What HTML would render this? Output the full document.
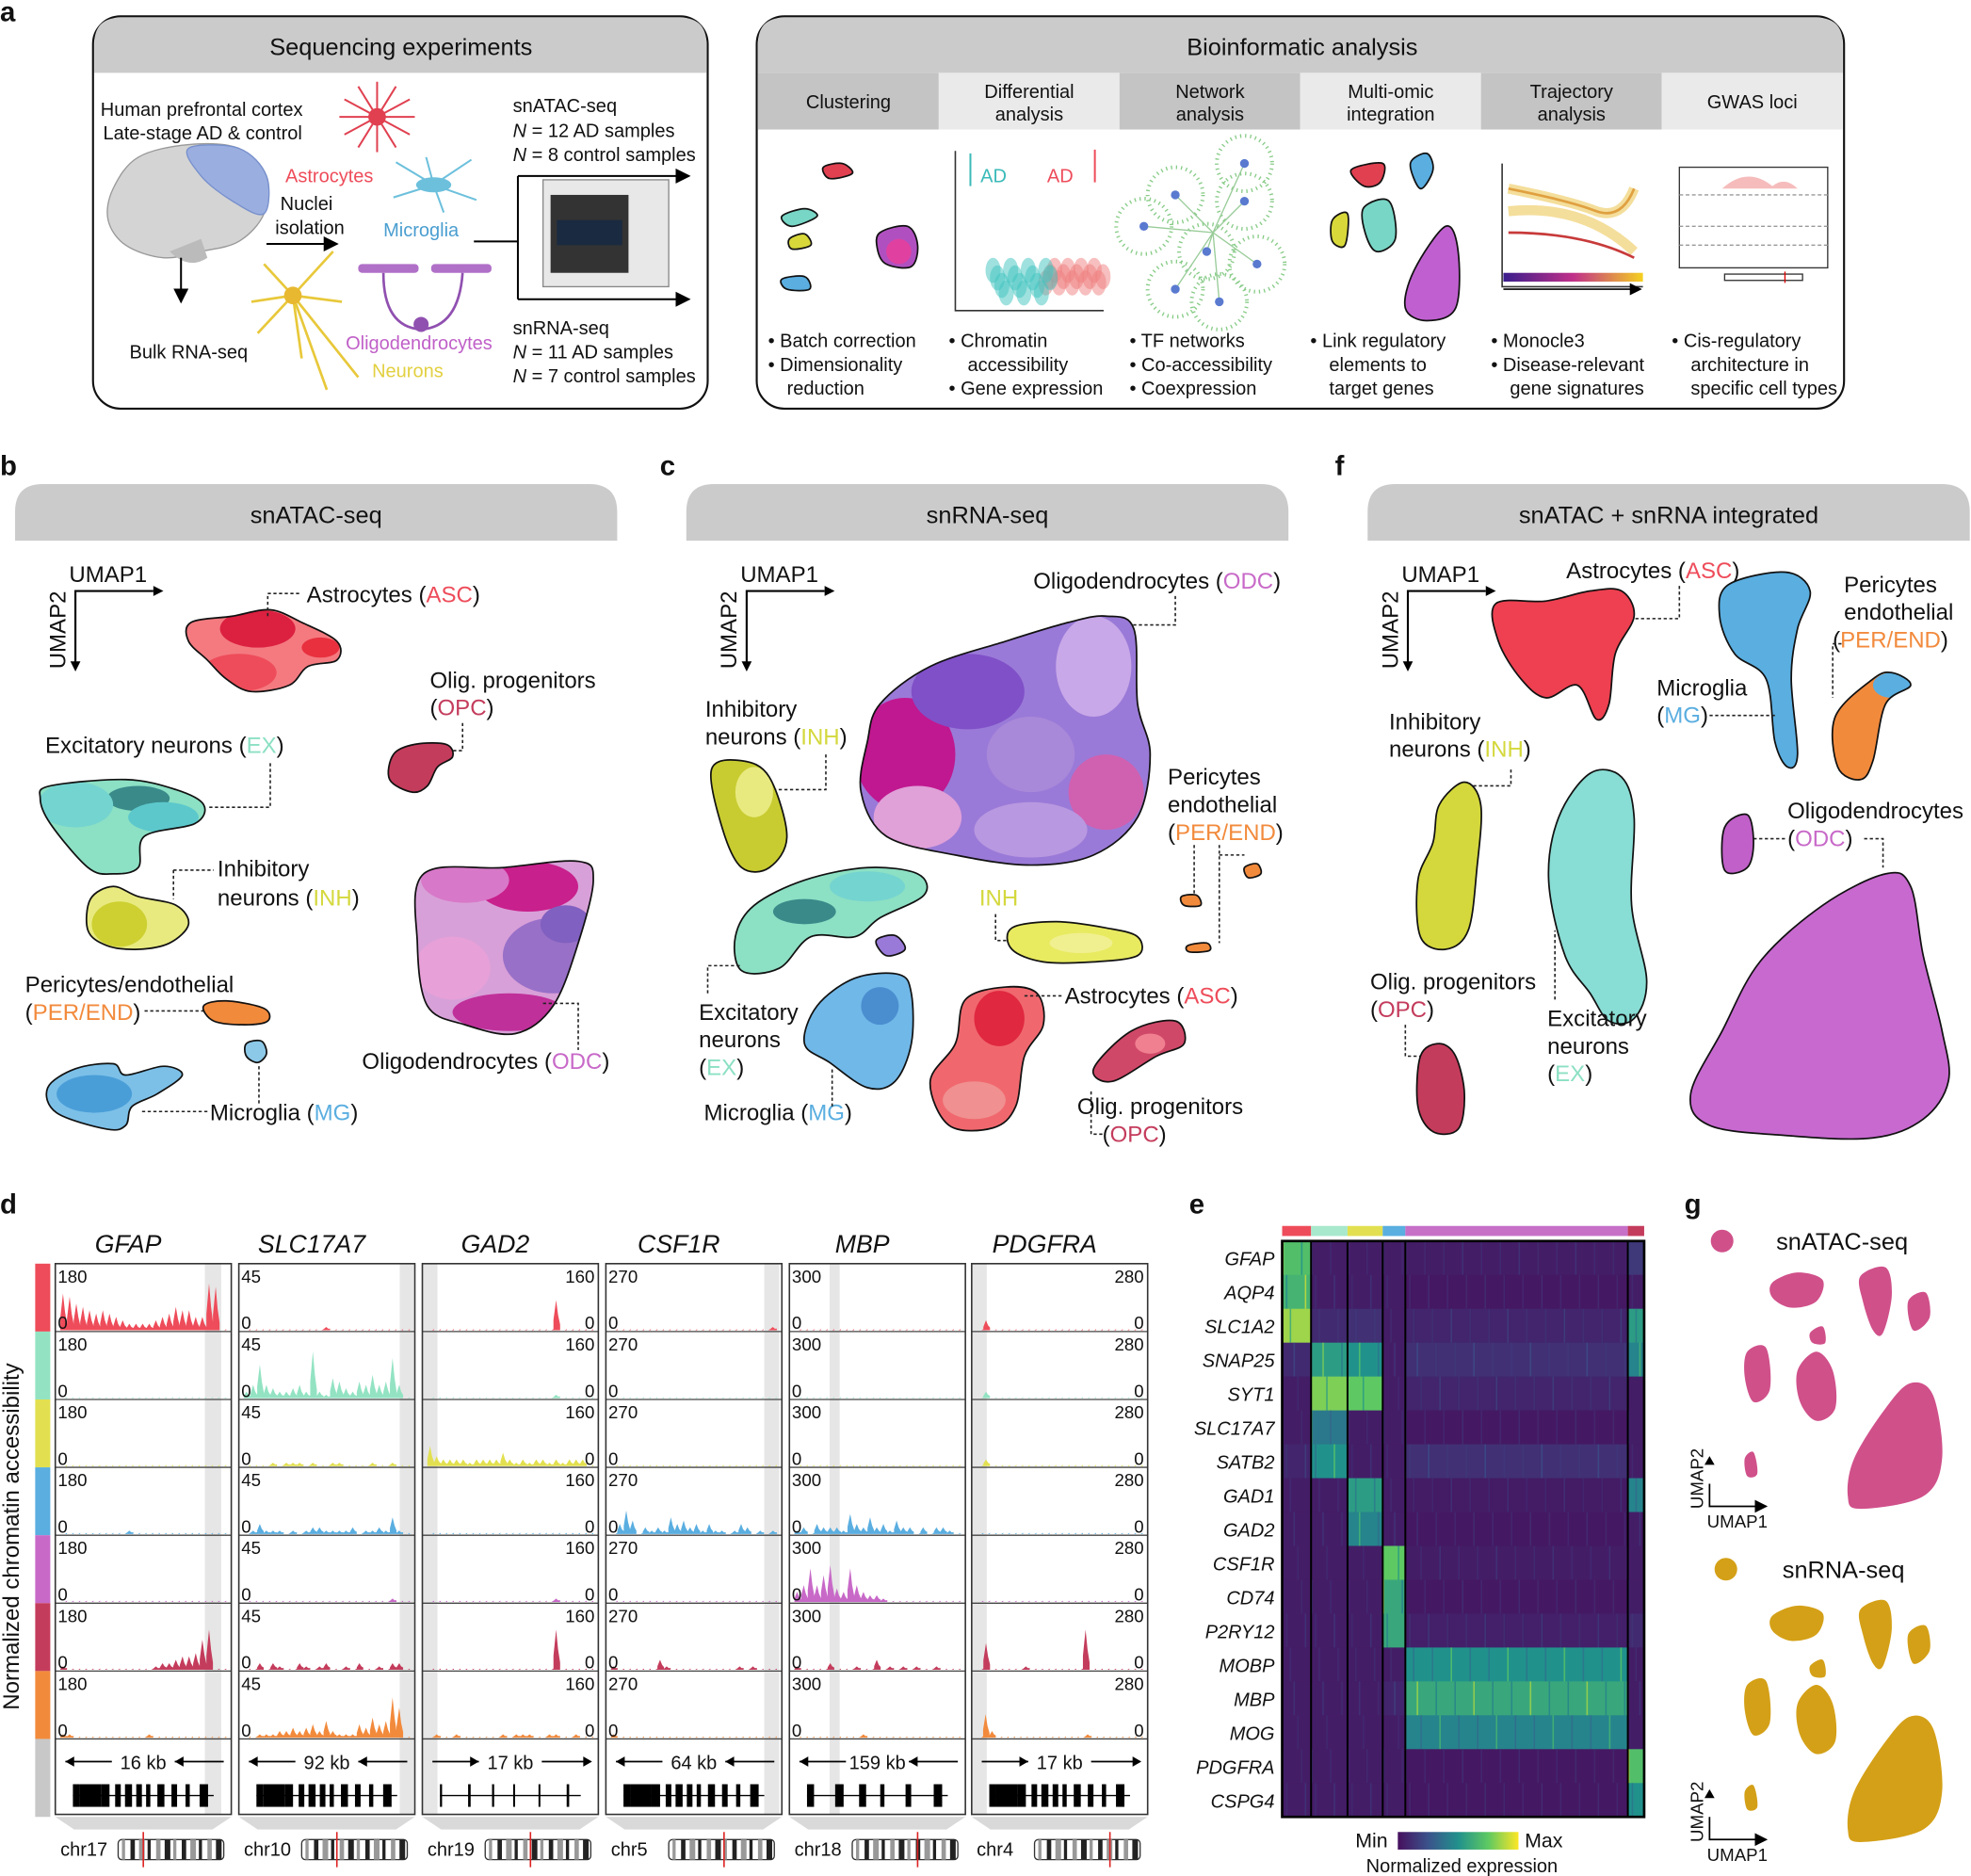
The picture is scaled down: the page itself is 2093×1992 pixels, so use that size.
<!DOCTYPE html>
<html><head><meta charset="utf-8"><style>
html,body{margin:0;padding:0;background:#fff}
svg{display:block;font-family:"Liberation Sans",Arial,sans-serif}
</style></head><body>
<svg id="fig" width="2093" height="1992" viewBox="0 0 1568 1492" preserveAspectRatio="none" xmlns="http://www.w3.org/2000/svg">
<defs>
<linearGradient id="vir" x1="0" x2="1" y1="0" y2="0"><stop offset="0" stop-color="#46105e"/><stop offset="0.25" stop-color="#3b528b"/><stop offset="0.5" stop-color="#21918c"/><stop offset="0.75" stop-color="#5ec962"/><stop offset="1" stop-color="#fde725"/></linearGradient>
<linearGradient id="traj" x1="0" x2="1"><stop offset="0" stop-color="#3a1e8c"/><stop offset="0.5" stop-color="#c0308a"/><stop offset="1" stop-color="#f5d020"/></linearGradient>
<marker id="arr" markerWidth="8" markerHeight="8" refX="7" refY="4" orient="auto"><path d="M0,0 L8,4 L0,8 z" fill="#000"/></marker>
</defs>
<g id="root"></g>
</svg>
<script>
// ---------- data for panel d (relative accessibility, hex digit 0-f per bin) ----------
const genes = ["GFAP","SLC17A7","GAD2","CSF1R","MBP","PDGFRA"];
const geneMax = ["180","45","160","270","300","280"];
const geneKb = ["16 kb","92 kb","17 kb","64 kb","159 kb","17 kb"];
const geneChr = ["chr17","chr10","chr19","chr5","chr18","chr4"];
const trackGFAP = ["ba87656543222234576644ed0","0000000000000000000000000","0000000000000000000000000","0000000000100000000000000","0000000000000000000000000","1000000000000012234459c00","1100000000000100000000000"];
const trackSLC = ["0000000000001000000000000","24a4322342e21653254745c40","0000101110100110000100100","0131110101221111201121510","0000000000000000000000100","0020210021012001020010220","0011122323425211143645c90"];
const trackGAD2 = ["0000000000000000000900000","0000000000000000000100000","6322221222242121221212220","0000000000000000000000000","0000000000000000000100000","0000000000000000000c00000","0100100000010111001100100"];
const trackCSF = ["0000000000000000000000001","0000000000000000000000000","0000000000000000000000000","03740212153423131101320101","0000000000000000000000000","1000000310000000000101000","1000000000000000000000000"];
const trackMBP = ["0000000000000000000000000","0000000000000000000000000","0000000000000000000000000","1203222163252314220202210","35a58b43a5322100000000000","1000020001003010101001000","0000000000100000000000000"];
const trackPDG = ["0300000000000000000000000","0200000000000000000000000","0200000000000000000000000","0000000000000000000000000","0000000000000000000000000","0800000100000000c00000000","07200000000000000100000000"];
const tracks = [trackGFAP,trackSLC,trackGAD2,trackCSF,trackMBP,trackPDG];
const cellColors = ["#ee4c5a","#93e3c3","#e2e050","#5aaee0","#c869c8","#c43c5c","#f28a3c"];

// ---------- data for panel e ----------
const hmGenes = ["GFAP","AQP4","SLC1A2","SNAP25","SYT1","SLC17A7","SATB2","GAD1","GAD2","CSF1R","CD74","P2RY12","MOBP","MBP","MOG","PDGFRA","CSPG4"];
const hmGroups = ["ASC","EX","INH","MG","ODC","OPC"];
const hmGroupColors = ["#ee4c5a","#a8e8cc","#e2e050","#5aaee0","#c670c8","#c43c5c"];
const hmValues = [
 [0.7,0.05,0.05,0.05,0.05,0.15],
 [0.65,0.05,0.05,0.05,0.03,0.05],
 [0.85,0.1,0.12,0.05,0.08,0.55],
 [0.1,0.55,0.5,0.05,0.12,0.45],
 [0.05,0.8,0.75,0.05,0.08,0.05],
 [0.05,0.4,0.05,0.05,0.03,0.05],
 [0.08,0.5,0.05,0.05,0.12,0.05],
 [0.05,0.05,0.55,0.05,0.04,0.45],
 [0.05,0.05,0.45,0.05,0.03,0.05],
 [0.05,0.05,0.05,0.75,0.05,0.05],
 [0.05,0.05,0.05,0.6,0.03,0.05],
 [0.05,0.05,0.05,0.6,0.06,0.1],
 [0.05,0.05,0.05,0.05,0.5,0.05],
 [0.05,0.05,0.05,0.08,0.6,0.05],
 [0.05,0.05,0.05,0.05,0.45,0.05],
 [0.05,0.05,0.05,0.05,0.03,0.7],
 [0.05,0.05,0.05,0.05,0.03,0.5]];
const hmGroupWidths = [23,29,28,18,177,13];

// ---------- helpers ----------
const NS="http://www.w3.org/2000/svg";
const root=document.getElementById('root');
function el(tag,attrs,parent,text){const e=document.createElementNS(NS,tag);for(const k in attrs)e.setAttribute(k,attrs[k]);if(text!==undefined)e.textContent=text;(parent||root).appendChild(e);return e;}
function txt(x,y,s,size,opts,parent){opts=opts||{};const a={x:x,y:y,'font-size':size,fill:opts.fill||'#111'};if(opts.anchor)a['text-anchor']=opts.anchor;if(opts.italic)a['font-style']='italic';if(opts.bold)a['font-weight']='bold';if(opts.rot)a.transform='rotate('+opts.rot+' '+x+' '+y+')';const t=el('text',a,parent,s);return t;}
function rich(x,y,parts,size,opts){opts=opts||{};const t=el('text',{x:x,y:y,'font-size':size,fill:'#111','text-anchor':opts.anchor||'start'});parts.forEach(p=>{const s=el('tspan',{fill:p[1]||'#111'},t,p[0]);});return t;}
function lerpHex(a,b,t){const pa=[1,3,5].map(i=>parseInt(a.substr(i,2),16)),pb=[1,3,5].map(i=>parseInt(b.substr(i,2),16));return 'rgb('+pa.map((v,i)=>Math.round(v+(pb[i]-v)*t)).join(',')+')';}
function viridis(v){const s=["#46105e","#3b528b","#21918c","#5ec962","#fde725"];v=Math.max(0,Math.min(1,v))*4;const i=Math.min(3,Math.floor(v));return lerpHex(s[i],s[i+1],v-i);}
function smooth(pts){let d='';const n=pts.length;for(let i=0;i<n;i++){const p0=pts[(i-1+n)%n],p1=pts[i],p2=pts[(i+1)%n],p3=pts[(i+2)%n];if(i==0)d+='M'+p1[0]+','+p1[1];const c1=[p1[0]+(p2[0]-p0[0])/6,p1[1]+(p2[1]-p0[1])/6],c2=[p2[0]-(p3[0]-p1[0])/6,p2[1]-(p3[1]-p1[1])/6];d+='C'+c1[0].toFixed(1)+','+c1[1].toFixed(1)+' '+c2[0].toFixed(1)+','+c2[1].toFixed(1)+' '+p2[0]+','+p2[1];}return d+'Z';}
let clipId=0;
function blob(pts,fills,name,outline){const g=el('g',{});const d=smooth(pts);const id='cp'+(clipId++);const cp=el('clipPath',{id:id},g);el('path',{d:d},cp);el('path',{d:d,fill:fills[0]},g);const inner=el('g',{'clip-path':'url(#'+id+')'},g);fills.slice(1).forEach(f=>el('ellipse',{cx:f[0],cy:f[1],rx:f[2],ry:f[3],fill:f[4]},inner));if(outline!==false)el('path',{d:d,fill:'none',stroke:'#111','stroke-width':1.3},g);return g;}
function dash(pts){el('polyline',{points:pts.map(p=>p.join(',')).join(' '),fill:'none',stroke:'#222','stroke-width':1.2,'stroke-dasharray':'2.5,2'});}
function umapAxes(x,y,name){const g=el('g',{});el('path',{d:`M${x},${y+58} L${x},${y} L${x+62},${y}`,fill:'none',stroke:'#000','stroke-width':1.6},g);el('path',{d:`M${x+62},${y-4} L${x+70},${y} L${x+62},${y+4}z M${x-4},${y+56} L${x},${y+64} L${x+4},${y+56}z`,fill:'#000'},g);txt(x-5,y-7,'UMAP1',18,{},g);txt(x-8,y+62,'UMAP2',18,{rot:-90},g);}
function panelLetter(x,y,s){txt(x,y,s,22,{bold:true,name:'panel-letter-'+s});}
function tab(x,y,w,h,label,name){const g=el('g',{});el('path',{d:`M${x},${y+h} L${x},${y+22} Q${x},${y} ${x+22},${y} L${x+w-22},${y} Q${x+w},${y} ${x+w},${y+22} L${x+w},${y+h}z`,fill:'#cbcbcb'},g);txt(x+w/2,y+31,label,19,{anchor:'middle'},g);}

const C={asc:'#ee4c5a',ex:'#78d6c6',inh:'#d4d83c',mg:'#5aaee0',odc:'#c869c8',opc:'#c43c5c',per:'#f28a3c'};

// ================= PANEL A =================
panelLetter(0,17,'a');
(function(){
 const g=el('g',{});
 el('rect',{x:74,y:13,width:489,height:312,rx:22,fill:'#fff',stroke:'#111','stroke-width':1.6},g);
 el('path',{d:'M75,58 L75,35 Q75,14 96,14 L541,14 Q562,14 562,35 L562,58z',fill:'#cbcbcb'},g);
 txt(319,44,'Sequencing experiments',19,{anchor:'middle'},g);
 txt(80,92,'Human prefrontal cortex',15,{},g);txt(82,111,'Late-stage AD & control',15,{},g);
 // brain
 const b=el('g',{});
 el('path',{d:smooth([[90,150],[110,125],[150,115],[190,118],[212,140],[210,170],[190,192],[160,200],[130,205],[100,195],[86,175]]),fill:'#d4d4d4',stroke:'#999'},b);
 el('path',{d:smooth([[150,118],[190,118],[212,140],[210,170],[185,160],[160,140]]),fill:'#9aaee0',stroke:'#7790cc'},b);
 el('path',{d:'M135,200 Q150,215 165,205 L160,190z',fill:'#bbb'},b);
 el('line',{x1:144,y1:205,x2:144,y2:240,stroke:'#000','stroke-width':1.5,'marker-end':'url(#arr)'});
 txt(103,285,'Bulk RNA-seq',15,{},g);
 // astrocyte
 const ast=el('g',{});
 for(let i=0;i<12;i++){const a=i*Math.PI/6;el('line',{x1:300,y1:93,x2:300+30*Math.cos(a),y2:93+28*Math.sin(a),stroke:'#e04050','stroke-width':1.5},ast);}
 el('circle',{cx:300,cy:93,r:7,fill:'#e04050'},ast);
 txt(227,145,'Astrocytes',15,{fill:'#ee4c5a'},g);
 // microglia
 const mg=el('g',{});
 el('ellipse',{cx:345,cy:147,rx:14,ry:6,fill:'#6cc0dc'},mg);
 [[-30,-18],[-32,10],[30,-20],[34,12],[8,22],[-6,-22]].forEach(p=>el('line',{x1:345,y1:147,x2:345+p[0],y2:147+p[1],stroke:'#6cc0dc','stroke-width':1.5},mg));
 txt(305,188,'Microglia',15,{fill:'#4a9ed0'},g);
 txt(223,167,'Nuclei',15,{},g);txt(219,186,'isolation',15,{},g);
 el('line',{x1:212,y1:194,x2:268,y2:194,stroke:'#000','stroke-width':1.5,'marker-end':'url(#arr)'});
 // neuron
 const ne=el('g',{});
 [[200,240],[210,210],[265,200],[272,240],[240,285],[260,310],[285,300],[205,265]].forEach(p=>el('line',{x1:233,y1:235,x2:p[0],y2:p[1],stroke:'#e8c83a','stroke-width':2},ne));
 el('circle',{cx:233,cy:235,r:7,fill:'#e8b830'},ne);
 txt(296,300,'Neurons',15,{fill:'#e2d040'},g);
 // oligodendrocyte
 const ol=el('g',{});
 el('rect',{x:285,y:210,width:48,height:7,rx:3,fill:'#b070c8'},ol);el('rect',{x:343,y:210,width:48,height:7,rx:3,fill:'#b070c8'},ol);
 el('path',{d:'M305,217 Q305,260 335,262 Q365,260 368,217',fill:'none',stroke:'#9050b0','stroke-width':2},ol);
 el('circle',{cx:335,cy:258,r:6,fill:'#9050b0'},ol);
 txt(275,278,'Oligodendrocytes',15,{fill:'#c060c8'},g);
 // machine
 const m=el('g',{});
 el('rect',{x:432,y:143,width:100,height:85,fill:'#e8e8e8',stroke:'#888'},m);
 el('rect',{x:438,y:155,width:62,height:62,fill:'#333'},m);el('rect',{x:443,y:175,width:52,height:20,fill:'#1a2a40'},m);
 el('polyline',{points:'377,192 412,192',fill:'none',stroke:'#000','stroke-width':1.5});
 el('polyline',{points:'412,140 412,238',fill:'none',stroke:'#000','stroke-width':1.5});
 el('line',{x1:412,y1:140,x2:548,y2:140,stroke:'#000','stroke-width':1.5,'marker-end':'url(#arr)'});
 el('line',{x1:412,y1:238,x2:548,y2:238,stroke:'#000','stroke-width':1.5,'marker-end':'url(#arr)'});
 txt(408,89,'snATAC-seq',15,{},g);
 rich(408,109,[['N','#111'],[' = 12 AD samples']],15,{name:'atac-ad-samples'}).firstChild.setAttribute('font-style','italic');
 rich(408,128,[['N'],[' = 8 control samples']],15,{name:'atac-control-samples'}).firstChild.setAttribute('font-style','italic');
 txt(408,266,'snRNA-seq',15,{},g);
 rich(408,285,[['N'],[' = 11 AD samples']],15,{name:'rna-ad-samples'}).firstChild.setAttribute('font-style','italic');
 rich(408,304,[['N'],[' = 7 control samples']],15,{name:'rna-control-samples'}).firstChild.setAttribute('font-style','italic');

 // Bioinformatic
 const h=el('g',{});
 el('rect',{x:602,y:13,width:865,height:312,rx:22,fill:'#fff',stroke:'#111','stroke-width':1.6},h);
 el('path',{d:'M603,58 L603,35 Q603,14 624,14 L1445,14 Q1466,14 1466,35 L1466,58z',fill:'#cbcbcb'},h);
 txt(1036,44,'Bioinformatic analysis',19,{anchor:'middle'},h);
 const cells=[['Clustering'],['Differential','analysis'],['Network','analysis'],['Multi-omic','integration'],['Trajectory','analysis'],['GWAS loci']];
 const bul=[['• Batch correction','• Dimensionality','  reduction'],['• Chromatin','  accessibility','• Gene expression'],['• TF networks','• Co-accessibility','• Coexpression'],['• Link regulatory','  elements to','  target genes'],['• Monocle3','• Disease-relevant','  gene signatures'],['• Cis-regulatory','  architecture in','  specific cell types']];
 cells.forEach((c,i)=>{const x=603+i*143.8;const cg=el('g',{});
  el('rect',{x:x,y:58,width:143.8,height:45,fill:i%2==0?'#c4c4c4':'#eaeaea'},cg);
  if(c.length==1)txt(x+72,86,c[0],15,{anchor:'middle'},cg);else{txt(x+72,78,c[0],15,{anchor:'middle'},cg);txt(x+72,96,c[1],15,{anchor:'middle'},cg);}
  bul[i].forEach((b,j)=>{const t=txt(x+8,276+j*19,b.replace(/^  /,'\u2002\u2002'),15,{},cg);t.setAttribute('xml:space','preserve');});
 });
 // mini illustrations
 blob([[655,133],[670,130],[678,138],[660,142]],['#e04050'],'clustering-blob');
 blob([[622,172],[640,166],[650,172],[630,180]],['#78d6c6'],'clustering-blob');
 blob([[628,190],[640,186],[645,195],[630,198]],['#d8d83a'],'clustering-blob');
 blob([[700,185],[722,180],[730,195],[725,212],[705,210],[698,198]],['#b050c0',[715,200,10,10,'#e040a0']],'clustering-blob');
 blob([[622,222],[640,220],[644,230],[626,230]],['#5aaee0'],'clustering-blob');
 el('polyline',{points:'760,120 760,247 878,247',fill:'none',stroke:'#333','stroke-width':1.2});
 txt(780,145,'AD',15,{fill:'#3abab8'});txt(833,145,'AD',15,{fill:'#ee4c5a'});
 el('line',{x1:772,y1:122,x2:772,y2:148,stroke:'#3abab8','stroke-width':1.5});el('line',{x1:871,y1:145,x2:871,y2:119,stroke:'#ee4c5a','stroke-width':1.5});
 const dp=el('g',{});
 for(let i=0;i<14;i++){el('ellipse',{cx:790+i*3.5,cy:215+(i%4)*6,rx:6,ry:10,fill:'#3fc4c0',opacity:0.5},dp);el('ellipse',{cx:832+i*3.5,cy:225-(i%3)*5,rx:6,ry:10,fill:'#f08080',opacity:0.5},dp);}
 const nw=el('g',{});
 [[935,155],[990,160],[960,200],[1000,210],[935,230],[970,240],[990,130],[910,180]].forEach(p=>{el('circle',{cx:p[0],cy:p[1],r:22,fill:'none',stroke:'#8c8','stroke-dasharray':'1,3','stroke-width':3},nw);el('line',{x1:965,y1:185,x2:p[0],y2:p[1],stroke:'#9c9','stroke-width':1},nw);el('circle',{cx:p[0],cy:p[1],r:3.5,fill:'#5a7ad0'},nw);});
 blob([[1075,135],[1100,130],[1098,145],[1085,148]],['#e04050'],'integration-blob');
 blob([[1122,130],[1135,122],[1140,135],[1130,150]],['#5aaee0'],'integration-blob');
 blob([[1085,165],[1105,160],[1110,190],[1095,200],[1086,185]],['#78d6c6'],'integration-blob');
 blob([[1125,215],[1150,180],[1160,200],[1158,245],[1135,255],[1118,245]],['#c060d0'],'integration-blob');
 blob([[1060,175],[1072,170],[1070,195],[1060,192]],['#d8d83a'],'integration-blob');
 el('polyline',{points:'1195,130 1195,228 1307,228',fill:'none',stroke:'#333','stroke-width':1.2});
 el('path',{d:'M1200,150 Q1250,160 1270,168 Q1290,175 1300,150',fill:'none',stroke:'#f0d070','stroke-width':8,opacity:0.7});
 el('path',{d:'M1200,150 Q1250,160 1270,168 Q1290,175 1300,150',fill:'none',stroke:'#e0a040','stroke-width':2});
 el('path',{d:'M1200,168 Q1260,162 1300,200',fill:'none',stroke:'#f0d070','stroke-width':8,opacity:0.7});
 el('path',{d:'M1200,185 Q1260,185 1300,205',fill:'none',stroke:'#c83a3a','stroke-width':2});
 el('rect',{x:1196,y:217,width:111,height:7,fill:'url(#traj)'});
 el('line',{x1:1196,y1:230,x2:1305,y2:230,stroke:'#000','stroke-width':1.2,'marker-end':'url(#arr)'});
 const gw=el('g',{});
 el('rect',{x:1336,y:133,width:118,height:80,fill:'#fff',stroke:'#333'},gw);
 [155,180,195].forEach(y=>el('line',{x1:1336,y1:y,x2:1454,y2:y,stroke:'#999','stroke-dasharray':'3,2'},gw));
 el('path',{d:'M1370,150 Q1390,132 1410,148 Q1420,140 1430,150z',fill:'#f2a0a0',opacity:0.7},gw);
 el('rect',{x:1372,y:218,width:62,height:5,fill:'#fff',stroke:'#333'},gw);el('line',{x1:1420,y1:216,x2:1420,y2:225,stroke:'#d00'},gw);
})();

// ================= PANEL B =================
panelLetter(0,378,'b');
tab(12,385,479,45,'snATAC-seq','snatac-seq-header');
umapAxes(60,470,'umap-axes-atac');
blob([[152,495],[185,490],[215,485],[240,495],[268,510],[268,525],[245,530],[230,545],[200,550],[180,540],[165,525],[150,510]],['#f47a80',[205,500,30,15,'#dc2040'],[190,535,30,15,'#ee4c5a'],[255,515,15,8,'#e8303e']],'asc-cluster-atac');
rich(244,479,[['Astrocytes ('],['ASC',C.asc],[')']],18);dash([[213,490],[213,472],[240,472]]);
rich(342,547,[['Olig. progenitors']],18);rich(342,569,[['('],['OPC',C.opc],[')']],18);dash([[368,575],[368,597],[360,597]]);
blob([[313,600],[330,592],[355,592],[360,602],[348,610],[340,625],[328,630],[310,620]],['#c43c5c'],'opc-cluster-atac');
rich(36,599,[['Excitatory neurons ('],['EX','#8ce0c4'],[')']],18);dash([[215,607],[215,642],[165,642]]);
blob([[40,625],[100,620],[140,628],[162,640],[155,655],[115,665],[110,690],[90,695],[70,690],[40,655],[32,635]],['#8ce0c4',[110,635,25,10,'#3a8a8a'],[130,650,28,12,'#5cc8cc'],[60,640,30,18,'#74d4d0']],'ex-cluster-atac');
rich(173,697,[['Inhibitory']],18);rich(173,720,[['neurons ('],['INH',C.inh],[')']],18);dash([[138,692],[170,692]]);dash([[138,692],[138,715]]);
blob([[72,715],[90,705],[110,713],[140,720],[150,735],[135,750],[110,755],[85,752],[70,740]],['#e8ea80',[95,735,22,18,'#cdd030']],'inh-cluster-atac');
rich(20,789,[['Pericytes/endothelial']],18);rich(20,811,[['('],['PER/END',C.per],[')']],18);dash([[115,804],[165,804]]);
blob([[162,800],[180,796],[210,802],[213,812],[195,815],[170,812]],['#f28a3c'],'per-cluster-atac');
blob([[196,830],[208,828],[212,838],[205,845],[196,840]],['#8cc8e8'],'mg-small-cluster-atac');
blob([[337,695],[400,690],[460,685],[472,700],[460,750],[440,800],[410,822],[370,815],[340,800],[332,750]],['#d8a0d8',[420,705,40,20,'#c8208c'],[370,700,35,18,'#d878c8'],[440,760,40,30,'#9870c8'],[360,770,30,25,'#e8a0d8'],[405,805,45,15,'#c0309a'],[450,735,20,15,'#8060c0']],'odc-cluster-atac');
rich(288,850,[['Oligodendrocytes ('],['ODC',C.odc],[')']],18);dash([[432,798],[460,798],[460,835]]);
blob([[38,865],[60,850],[90,846],[100,855],[130,848],[145,855],[125,870],[105,880],[100,895],[85,898],[45,885]],['#7cc0e8',[75,870,30,15,'#4a9ed8']],'mg-cluster-atac');
rich(167,891,[['Microglia ('],['MG',C.mg],[')']],18);dash([[113,884],[166,884]]);dash([[206,848],[206,878]]);

// ================= PANEL C =================
panelLetter(525,378,'c');
tab(546,385,479,45,'snRNA-seq','snrna-seq-header');
umapAxes(594,470,'umap-axes-rna');
rich(822,468,[['Oligodendrocytes ('],['ODC',C.odc],[')']],18);dash([[935,474],[935,497],[898,497]]);
blob([[700,560],[740,530],[800,510],[850,495],[880,490],[902,500],[905,560],[915,600],[905,650],[870,680],[820,688],[760,680],[705,665],[685,630],[690,590]],['#9a7ad8',[720,600,40,45,'#c01890'],[770,550,45,30,'#8050c8'],[870,530,30,40,'#c8a8e8'],[730,650,35,25,'#e0a0d8'],[880,630,30,30,'#d060b0'],[820,660,45,22,'#b898e0'],[820,600,35,30,'#a888d8']],'odc-cluster-rna');
rich(561,570,[['Inhibitory']],18);rich(561,592,[['neurons ('],['INH',C.inh],[')']],18);dash([[657,600],[657,628],[617,628]]);
blob([[566,612],[590,605],[612,618],[626,665],[612,690],[590,690],[575,660]],['#c8cc30',[600,630,15,20,'#e8ea80']],'inh-cluster-rna');
blob([[600,720],[640,700],[690,690],[730,695],[735,712],[700,730],[680,745],[645,745],[620,770],[590,772],[585,745]],['#8ce0c4',[640,725,25,10,'#3a8a8a'],[690,705,30,12,'#74d4d0']],'ex-cluster-rna');
blob([[697,748],[712,744],[720,755],[705,760]],['#9a7ad8'],'small-cluster-rna');
rich(556,811,[['Excitatory']],18);rich(556,833,[['neurons']],18);rich(556,855,[['('],['EX','#8ce0c4'],[')']],18);dash([[563,790],[563,768],[590,768]]);
rich(779,720,[['INH',C.inh]],18);dash([[792,727],[792,748],[810,748]]);
blob([[805,738],[840,733],[880,738],[905,745],[905,760],[870,765],[830,765],[805,755]],['#e8ea60',[860,750,25,8,'#f0f090']],'inh-small-cluster-rna');
rich(929,624,[['Pericytes']],18);rich(929,646,[['endothelial']],18);rich(929,668,[['('],['PER/END',C.per],[')']],18);
dash([[950,672],[950,712]]);dash([[970,672],[970,750]]);dash([[970,680],[990,680]]);
blob([[940,713],[952,712],[955,720],[942,720]],['#f28a3c'],'per-cluster-rna');
blob([[945,752],[960,750],[962,756],[946,757]],['#f28a3c'],'per-cluster-rna');
blob([[990,690],[1000,687],[1003,695],[993,698]],['#f28a3c'],'per-cluster-rna');
blob([[650,800],[680,778],[715,775],[725,790],[725,830],[712,860],[690,865],[660,845],[640,830]],['#70b8e8',[700,800,15,15,'#4a8ed0']],'mg-cluster-rna');
rich(560,891,[['Microglia ('],['MG',C.mg],[')']],18);dash([[662,880],[662,850]]);
blob([[768,795],[800,785],[825,790],[830,815],[815,840],[808,880],[790,897],[755,895],[740,860],[760,830]],['#f0686e',[795,810,20,22,'#e02840'],[775,875,25,15,'#f09090']],'asc-cluster-rna');
rich(847,798,[['Astrocytes ('],['ASC',C.asc],[')']],18);dash([[815,792],[845,792]]);
blob([[870,850],[900,820],[935,812],[942,830],[920,840],[885,860]],['#d04868',[915,830,12,8,'#f08090']],'opc-cluster-rna');
rich(857,886,[['Olig. progenitors']],18);rich(877,908,[['('],['OPC',C.opc],[')']],18);dash([[868,868],[868,902],[878,902]]);

// ================= PANEL F =================
panelLetter(1062,378,'f');
tab(1088,385,479,45,'snATAC + snRNA integrated','integrated-header');
umapAxes(1120,470,'umap-axes-integrated');
rich(1246,460,[['Astrocytes ('],['ASC',C.asc],[')']],18);dash([[1336,466],[1336,492],[1300,492]]);
blob([[1190,480],[1230,478],[1265,470],[1290,470],[1300,490],[1285,520],[1280,560],[1270,572],[1255,545],[1230,555],[1210,540],[1192,510]],['#ee4050'],'asc-cluster-integrated');
blob([[1375,465],[1420,455],[1440,470],[1430,500],[1425,540],[1430,600],[1422,610],[1412,590],[1405,540],[1380,520],[1368,490]],['#5aaee0'],'mg-cluster-integrated');
rich(1467,471,[['Pericytes']],18);rich(1467,493,[['endothelial']],18);rich(1458,515,[['('],['PER/END',C.per],[')']],18);dash([[1465,512],[1458,512],[1458,555]]);
blob([[1460,570],[1490,540],[1505,535],[1520,545],[1500,560],[1490,605],[1480,620],[1462,610]],['#f28a3c',[1505,545,15,10,'#5aaee0']],'per-cluster-integrated');
rich(1318,553,[['Microglia']],18);rich(1318,575,[['('],['MG',C.mg],[')']],18);dash([[1360,569],[1412,569]]);
rich(1105,580,[['Inhibitory']],18);rich(1105,602,[['neurons ('],['INH',C.inh],[')']],18);dash([[1202,612],[1202,625],[1165,625]]);
blob([[1145,640],[1165,622],[1178,640],[1175,690],[1168,740],[1150,755],[1130,745],[1128,700],[1140,670]],['#d4d83c'],'inh-cluster-integrated');
blob([[1240,650],[1265,615],[1290,618],[1300,650],[1298,720],[1310,780],[1300,810],[1280,812],[1265,790],[1245,760],[1232,700]],['#88ddd4'],'ex-cluster-integrated');
rich(1422,651,[['Oligodendrocytes']],18);rich(1422,673,[['('],['ODC',C.odc],[')']],18);dash([[1395,667],[1420,667]]);dash([[1483,667],[1498,667],[1498,690]]);
blob([[1372,658],[1390,648],[1395,670],[1390,690],[1372,692]],['#c060c8'],'odc-small-cluster-integrated');
blob([[1400,765],[1450,720],[1500,695],[1520,705],[1530,760],[1545,820],[1550,860],[1530,890],[1490,905],[1420,903],[1360,895],[1345,870],[1370,820]],['#c869d0'],'odc-cluster-integrated');
rich(1090,787,[['Olig. progenitors']],18);rich(1090,809,[['('],['OPC',C.opc],[')']],18);dash([[1118,815],[1118,840],[1130,840]]);
blob([[1130,840],[1145,830],[1158,840],[1165,870],[1160,898],[1140,900],[1128,880]],['#c43c5c'],'opc-cluster-integrated');
rich(1231,816,[['Excitatory']],18);rich(1231,838,[['neurons']],18);rich(1231,860,[['('],['EX','#8ce0c4'],[')']],18);dash([[1237,795],[1237,740]]);

// ================= PANEL D =================
panelLetter(0,965,'d');
const colX=[44,190,336,482,628,773], colW=140, rowTop=1005, rowH=54;
txt(15,1222,'Normalized chromatin accessibility',18,{anchor:'middle',rot:-90,name:'y-axis-title'});
cellColors.forEach((c,i)=>{const r=el('rect',{x:28,y:rowTop+i*rowH,width:12,height:rowH,fill:c});});
el('rect',{x:28,y:rowTop+7*rowH,width:12,height:62,fill:'#c8c8c8'});
const shade=[[163,176],[318,329],[336,348],[608,620],[660,668],[773,785]];
genes.forEach((g,gi)=>{
 const x0=colX[gi];
 const grp=el('g',{});
 txt(x0+colW/2-12,996,g,20,{anchor:'middle',italic:true,name:'gene-title'},grp);
 el('rect',{x:shade[gi][0],y:rowTop,width:shade[gi][1]-shade[gi][0],height:7*rowH+60,fill:'#e6e6e6'},grp);
 const right=(gi==2||gi==5);
 tracks[gi].forEach((s,ri)=>{
  const yb=rowTop+(ri+1)*rowH-1;const n=s.length;const bw=(colW-8)/n;
  let d='M'+(x0+4)+','+yb;
  for(let k=0;k<n;k++){const v=parseInt(s[k],16)/15;const h=v*(rowH-14);const xc=x0+4+k*bw;
   d+=` L${(xc).toFixed(1)},${(yb-h*0.35).toFixed(1)} L${(xc+bw*0.4).toFixed(1)},${(yb-h).toFixed(1)} L${(xc+bw*0.7).toFixed(1)},${(yb-h*0.5).toFixed(1)} L${(xc+bw).toFixed(1)},${(yb-h*0.15-1).toFixed(1)}`;}
  d+=` L${x0+colW-4},${yb}z`;
  const p=el('path',{d:d,fill:cellColors[ri]},grp);
  el('line',{x1:x0,y1:yb+1,x2:x0+colW,y2:yb+1,stroke:'#444','stroke-width':1},grp);
  if(right){txt(x0+colW-3,rowTop+ri*rowH+15,geneMax[gi],14,{anchor:'end',name:'track-max'},grp);txt(x0+colW-3,yb-1,'0',14,{anchor:'end',name:'track-zero'},grp);}
  else{txt(x0+2,rowTop+ri*rowH+15,geneMax[gi],14,{name:'track-max'},grp);txt(x0+2,yb-1,'0',14,{name:'track-zero'},grp);}
 });
 el('rect',{x:x0,y:rowTop,width:colW,height:7*rowH+60,fill:'none',stroke:'#333','stroke-width':1.2},grp);
 // kb arrows
 const ym=1401;
 txt(x0+colW/2,ym+6,geneKb[gi],15,{anchor:'middle',name:'scale-label'},grp);
 const fwd=(gi==2||gi==5);
 el('line',{x1:x0+8,y1:ym,x2:x0+colW/2-25,y2:ym,stroke:'#000','stroke-width':1.3},grp);
 el('line',{x1:x0+colW/2+25,y1:ym,x2:x0+colW-6,y2:ym,stroke:'#000','stroke-width':1.3},grp);
 if(fwd){el('path',{d:`M${x0+colW/2-32},${ym-4} L${x0+colW/2-25},${ym} L${x0+colW/2-32},${ym+4}z M${x0+colW-12},${ym-4} L${x0+colW-5},${ym} L${x0+colW-12},${ym+4}z`,fill:'#000'},grp);}
 else{el('path',{d:`M${x0+15},${ym-4} L${x0+8},${ym} L${x0+15},${ym+4}z M${x0+colW/2+32},${ym-4} L${x0+colW/2+25},${ym} L${x0+colW/2+32},${ym+4}z`,fill:'#000'},grp);}
 // gene model
 el('line',{x1:x0+14,y1:1428,x2:x0+colW-14,y2:1428,stroke:'#000','stroke-width':1},grp);
 const ex=[[0,0.05],[0.05,0.15],[0.2,0.06],[0.3,0.04],[0.37,0.05],[0.45,0.04],[0.52,0.03],[0.6,0.05],[0.7,0.04],[0.8,0.03],[0.9,0.06]];
 ex.forEach((e,k)=>{if((gi==2||gi==4)&&k%2==1)return;el('rect',{x:x0+14+e[0]*(colW-28),y:1419,width:Math.max(1.5,e[1]*(colW-28)*(gi==2?0.3:1)),height:18,fill:'#000'},grp);});
 el('path',{d:`M${x0},${1445} L${x0+colW},${1445} L${x0+colW-15},${1455} L${x0+15},${1455}z`,fill:'#d0d0d0',opacity:0.8},grp);
 // chromosome
 txt(x0+4,1476,geneChr[gi],15,{name:'chromosome-label'},grp);
 const cx=x0+50;
 el('rect',{x:cx,y:1463,width:84,height:16,rx:3,fill:'#fff',stroke:'#333'},grp);
 for(let k=0;k<12;k++){el('rect',{x:cx+3+k*6.8,y:1463,width:2.5+(k%3),height:16,fill:k%2?'#222':'#999'},grp);}
 el('line',{x1:cx+20+gi*8,y1:1457,x2:cx+20+gi*8,y2:1485,stroke:'#d22','stroke-width':1.2},grp);
});

// ================= PANEL E =================
panelLetter(946,965,'e');
(function(){
 const x0=1020,y0=987,w=288,h=458,rh=h/hmGenes.length;
 const g=el('g',{});
 let gx=[];let acc=x0;hmGroupWidths.forEach(wd=>{gx.push(acc);acc+=wd;});
 hmGroups.forEach((gr,j)=>{const r=el('rect',{x:gx[j],y:975,width:hmGroupWidths[j],height:8,fill:hmGroupColors[j]},g);});
 el('rect',{x:x0,y:y0,width:w,height:h,fill:'#46105e'},g);
 hmGenes.forEach((gn,i)=>{
  hmGroups.forEach((gr,j)=>{
   const v=hmValues[i][j];
   const c=el('rect',{x:gx[j],y:y0+i*rh,width:hmGroupWidths[j],height:rh+0.3,fill:viridis(v)},g);
   
   // vertical striping texture (cells vary across columns)
   const nStr=Math.floor(hmGroupWidths[j]/3);
   for(let k=0;k<nStr;k++){if((k*7+i*3)%5!=0)continue;el('rect',{x:gx[j]+k*3,y:y0+i*rh,width:1.2,height:rh,fill:viridis(v*((k%3)?0.6:1.3)+0.08),opacity:0.8},g);}
  });
  txt(x0-6,y0+i*rh+rh/2+6,gn,15,{anchor:'end',italic:true,name:'gene-label'},g);
 });
 gx.slice(1).forEach(x=>el('line',{x1:x,y1:y0,x2:x,y2:y0+h,stroke:'#000','stroke-width':1.5},g));
 el('rect',{x:x0,y:y0,width:w,height:h,fill:'none',stroke:'#000','stroke-width':2},g);
 const cb=el('rect',{x:1112,y:1457,width:96,height:14,fill:'url(#vir)'});
 txt(1104,1469,'Min',16,{anchor:'end',name:'colorbar-min'});txt(1213,1469,'Max',16,{name:'colorbar-max'});
 txt(1163,1489,'Normalized expression',15,{anchor:'middle',name:'colorbar-title'});
})();

// ================= PANEL G =================
panelLetter(1340,965,'g');
el('circle',{cx:1370,cy:987,r:9,fill:'#d0508a'});txt(1413,994,'snATAC-seq',19,{name:'legend-atac'});
el('circle',{cx:1373,cy:1248,r:9,fill:'#d4a017'});txt(1418,1255,'snRNA-seq',19,{name:'legend-rna'});
function miniUmap(dy,col,name){
 const s=[
  [[1410,1020],[1430,1012],[1450,1018],[1445,1035],[1425,1040],[1410,1032]],
  [[1480,1015],[1500,1008],[1505,1030],[1498,1060],[1490,1058],[1482,1035]],
  [[1518,1035],[1532,1028],[1535,1048],[1522,1058]],
  [[1390,1075],[1405,1072],[1408,1105],[1395,1115],[1388,1095]],
  [[1430,1090],[1445,1075],[1458,1090],[1460,1120],[1445,1130],[1432,1115]],
  [[1475,1160],[1500,1120],[1520,1100],[1538,1110],[1545,1160],[1530,1190],[1480,1200],[1470,1190]],
  [[1440,1060],[1450,1055],[1452,1068],[1442,1068]],
  [[1388,1160],[1395,1155],[1398,1172],[1390,1174]]];
 s.forEach(p=>blob(p.map(q=>[q[0],q[1]+dy]),[col],name,false));
 el('path',{d:`M${1360},${1160+dy+20} L${1360},${1198+dy} L${1405},${1198+dy}`,fill:'none',stroke:'#000','stroke-width':1.3,'marker-end':'url(#arr)'});
 el('path',{d:`M1356,${1165+dy} L1360,${1158+dy} L1364,${1165+dy}z`,fill:'#000'});
 txt(1355,1200+dy,'UMAP2',14,{rot:-90,name:'umap2-label'});txt(1358,1215+dy,'UMAP1',14,{name:'umap1-label'});
}
miniUmap(0,'#d0508a','atac-umap-blob');
miniUmap(265,'#d4a017','rna-umap-blob');
</script>
</body></html>
